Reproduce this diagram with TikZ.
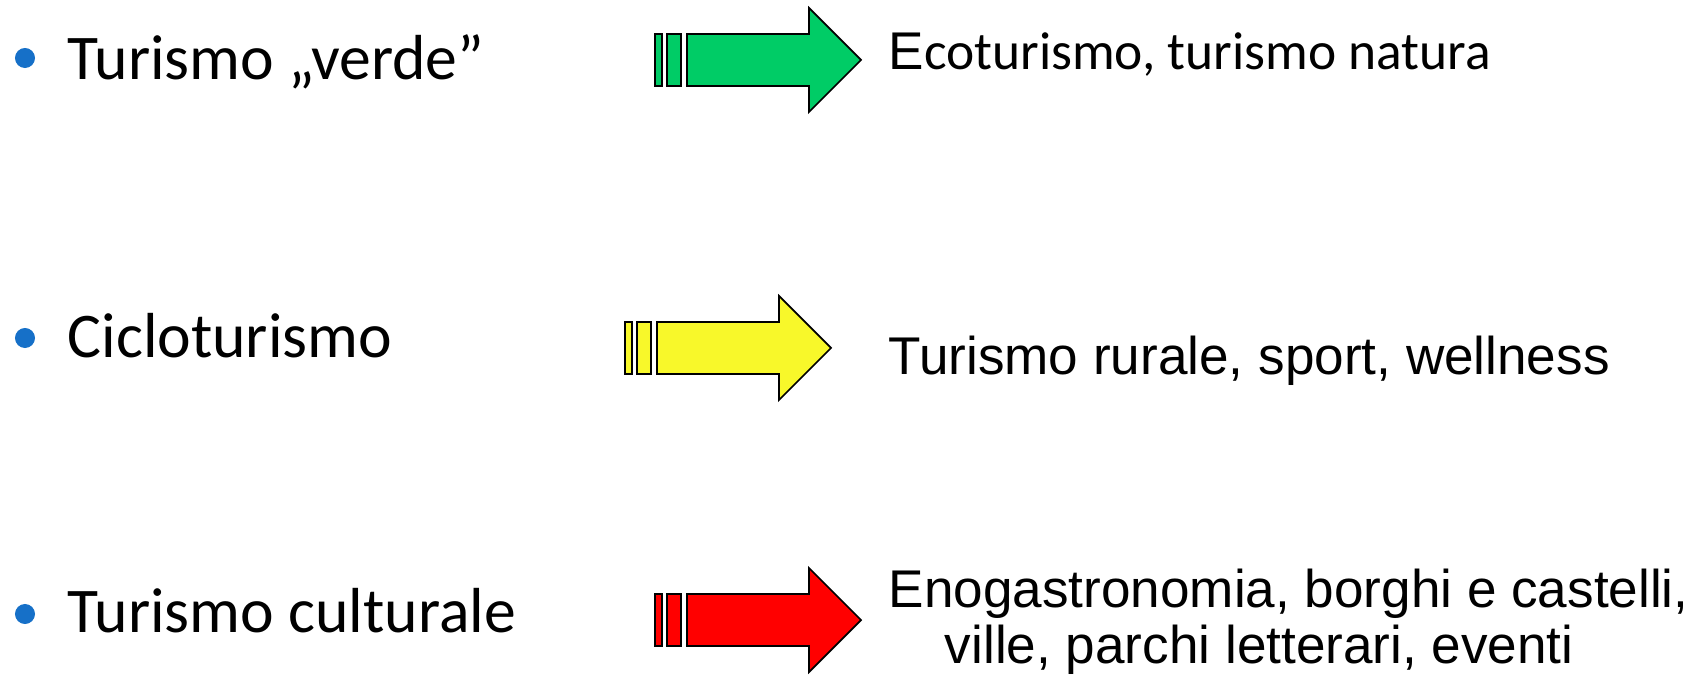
\documentclass[tikz,border=0pt]{standalone}
\usepackage{fontspec}
\setmainfont{Carlito}
\newfontfamily\arialfont{Liberation Sans}
\usetikzlibrary{positioning}

\definecolor{bulletblue}{RGB}{22,112,200}
\definecolor{verde}{RGB}{0,204,102}
\definecolor{giallo}{RGB}{248,248,42}
\definecolor{rosso}{RGB}{255,0,0}

\begin{document}
\begin{tikzpicture}[
        x = 0.01cm,
        y = -0.01cm,
        dot/.style = {
                circle,
                fill=bulletblue,
                inner sep=0pt,
                minimum size=0.2cm,
            },
        topic/.style = {
                anchor=base west,
                inner sep=0pt,
                font=\fontsize{18.1}{22}\selectfont,
            },
        note/.style = {
                anchor=base west,
                inner sep=0pt,
                font=\arialfont\fontsize{15.1}{15.9}\selectfont,
            },
        bar/.style = {
                draw=black,
                line width=0.5pt,
            },
    ]
    \useasboundingbox (0,0) rectangle (1699,682);
    % bullets and topics
    \foreach \y/\b/\t [count=\j] in {
            58/80/{Turismo „verde”},
            338/358/{Cicloturismo},
            614/633/{Turismo culturale}
        }
        {
            \node[dot] (B-\j) at (25,\y) {};
            \node[topic] (T-\j) at (67,\b) {\t};
        }
    % block arrows
    \foreach \tx/\ty/\c in {861/60/verde, 831/348/giallo, 861/620/rosso}
        {
            \draw[bar, fill=\c] (\tx-206,\ty-26) rectangle (\tx-199,\ty+26);
            \draw[bar, fill=\c] (\tx-194,\ty-26) rectangle (\tx-180,\ty+26);
            \draw[bar, fill=\c] (\tx-174,\ty-26) -- (\tx-52,\ty-26) -- (\tx-52,\ty-52)
            -- (\tx,\ty) -- (\tx-52,\ty+52) -- (\tx-52,\ty+26) -- (\tx-174,\ty+26) -- cycle;
        }
    \node[note] (N-1) at (888,70)
        {E{\rmfamily\fontsize{15.2}{18}\selectfont coturismo, turismo natura}};
    \node[note] (N-2) at (888,374) {Turismo rurale, sport, wellness};
    \node[note, align=left] (N-3) at (888,663)
        {Enogastronomia, borghi e castelli,\\ \hspace*{16pt}ville, parchi letterari, eventi};
\end{tikzpicture}
\end{document}
